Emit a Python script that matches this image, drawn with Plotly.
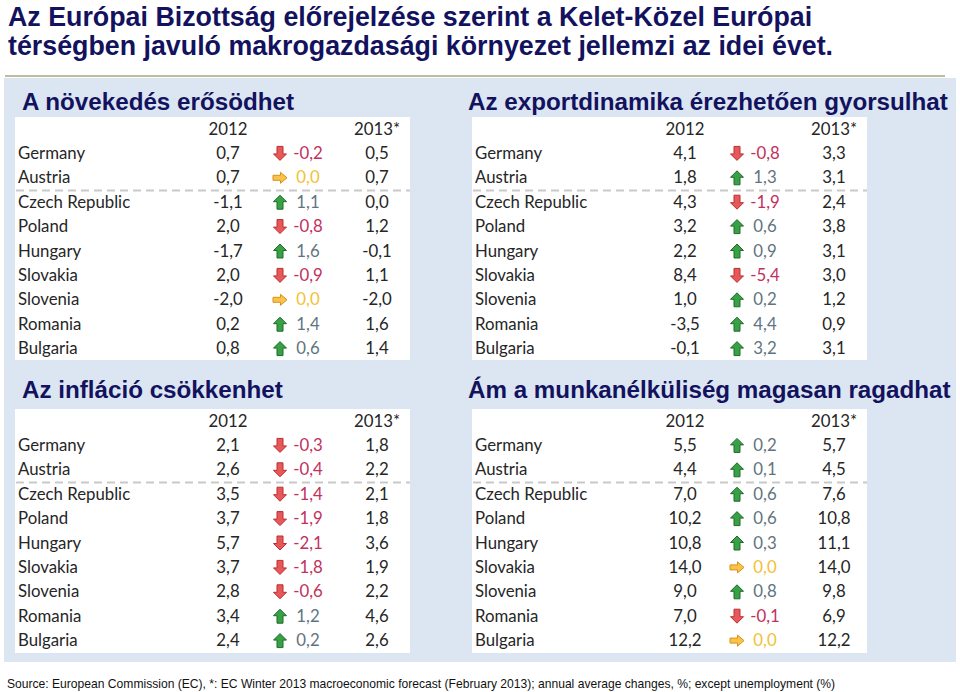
import plotly.graph_objects as go

# ---------------- data ----------------
countries = ["Germany", "Austria", "Czech Republic", "Poland", "Hungary",
             "Slovakia", "Slovenia", "Romania", "Bulgaria"]
col_headers = ["2012", "2013*"]

growth_2012 = [0.7, 0.7, -1.1, 2.0, -1.7, 2.0, -2.0, 0.2, 0.8]
growth_change = [-0.2, 0.0, 1.1, -0.8, 1.6, -0.9, 0.0, 1.4, 0.6]
growth_2013 = [0.5, 0.7, 0.0, 1.2, -0.1, 1.1, -2.0, 1.6, 1.4]

export_2012 = [4.1, 1.8, 4.3, 3.2, 2.2, 8.4, 1.0, -3.5, -0.1]
export_change = [-0.8, 1.3, -1.9, 0.6, 0.9, -5.4, 0.2, 4.4, 3.2]
export_2013 = [3.3, 3.1, 2.4, 3.8, 3.1, 3.0, 1.2, 0.9, 3.1]

inflation_2012 = [2.1, 2.6, 3.5, 3.7, 5.7, 3.7, 2.8, 3.4, 2.4]
inflation_change = [-0.3, -0.4, -1.4, -1.9, -2.1, -1.8, -0.6, 1.2, 0.2]
inflation_2013 = [1.8, 2.2, 2.1, 1.8, 3.6, 1.9, 2.2, 4.6, 2.6]

unemp_2012 = [5.5, 4.4, 7.0, 10.2, 10.8, 14.0, 9.0, 7.0, 12.2]
unemp_change = [0.2, 0.1, 0.6, 0.6, 0.3, 0.0, 0.8, -0.1, 0.0]
unemp_2013 = [5.7, 4.5, 7.6, 10.8, 11.1, 14.0, 9.8, 6.9, 12.2]

main_title = ["Az Európai Bizottság előrejelzése szerint a Kelet-Közel Európai",
              "térségben javuló makrogazdasági környezet jellemzi az idei évet."]
panel_titles = ["A növekedés erősödhet",
                "Az exportdinamika érezhetően gyorsulhat",
                "Az infláció csökkenhet",
                "Ám a munkanélküliség magasan ragadhat"]
footer = ("Source: European Commission (EC), *: EC Winter 2013 macroeconomic forecast "
          "(February 2013); annual average changes, %; except unemployment (%)")

# ---------------- layout helpers ----------------
W, H = 960, 692
NAVY = "#12125e"
TXT = "#262626"
BODY_FONT = "Lato"
BODY_SIZE = 16.8

tables = [
    dict(left=15, top=117, h=243, title=panel_titles[0], tx=20, ty=101,
         v12=growth_2012, ch=growth_change, v13=growth_2013),
    dict(left=472, top=117, h=243, title=panel_titles[1], tx=466, ty=101,
         v12=export_2012, ch=export_change, v13=export_2013),
    dict(left=15, top=409, h=244, title=panel_titles[2], tx=20, ty=389,
         v12=inflation_2012, ch=inflation_change, v13=inflation_2013),
    dict(left=472, top=409, h=244, title=panel_titles[3], tx=466, ty=389,
         v12=unemp_2012, ch=unemp_change, v13=unemp_2013),
]
TW = 395
ROW0, ROWH = 11.5, 24.4
TEXT_DY = 2
C_NAME, C_12, C_ARR, C_CH, C_13 = 3, 213, 265, 293, 362


def fmt(v):
    s = f"{v:.1f}".replace(".", ",")
    return "0,0" if s == "-0,0" else s


def arrow_path(cx, cy, d):
    if d > 0:
        pts = [(0, -7), (6.5, -0.5), (3, -0.5), (3, 7), (-3, 7), (-3, -0.5), (-6.5, -0.5)]
    elif d < 0:
        pts = [(0, 7), (6.5, 0.5), (3, 0.5), (3, -7), (-3, -7), (-3, 0.5), (-6.5, 0.5)]
    else:
        pts = [(7, 0), (0.5, -5.5), (0.5, -2.5), (-7, -2.5), (-7, 2.5), (0.5, 2.5), (0.5, 5.5)]
    return "M " + " L ".join(f"{cx + px:.2f},{cy + py:.2f}" for px, py in pts) + " Z"


fig = go.Figure()
shapes = []
annotations = []

# background panel + olive rule
shapes.append(dict(type="rect", x0=4, x1=956, y0=78, y1=662, xref="x", yref="y",
                   fillcolor="#dce6f2", line=dict(width=0), layer="below"))
shapes.append(dict(type="line", x0=5, x1=945, y0=76, y1=76, xref="x", yref="y",
                   line=dict(color="#a9a77d", width=1.5)))

for t in tables:
    L, T = t["left"], t["top"]
    shapes.append(dict(type="rect", x0=L, x1=L + TW, y0=T, y1=T + t["h"], xref="x", yref="y",
                       fillcolor="white", line=dict(width=0), layer="below"))
    ydash = T + ROW0 + ROWH * 2.5 + 1
    shapes.append(dict(type="line", x0=L + 1, x1=L + TW, y0=ydash, y1=ydash, xref="x", yref="y",
                       line=dict(color="#c9c9c9", width=2, dash="8px,5px")))
    annotations.append(dict(x=t["tx"], y=t["ty"], xref="x", yref="y", text=f"<b>{t['title']}</b>",
                            showarrow=False, xanchor="left", yanchor="middle",
                            font=dict(family="Liberation Sans, Arial", size=24.2, color=NAVY)))

    rows_y = [T + ROW0 + ROWH * (k + 1) for k in range(len(countries))]
    text_y = [y + TEXT_DY for y in rows_y]
    hy = T + ROW0 + TEXT_DY
    # headers
    fig.add_trace(go.Scatter(x=[L + C_12, L + C_13], y=[hy, hy], mode="text", text=col_headers,
                             textposition="middle center",
                             textfont=dict(family=BODY_FONT, size=BODY_SIZE, color=TXT),
                             hoverinfo="skip", showlegend=False))
    # names
    fig.add_trace(go.Scatter(x=[L + C_NAME] * len(countries), y=text_y, mode="text",
                             text=countries, textposition="middle right",
                             textfont=dict(family=BODY_FONT, size=BODY_SIZE, color=TXT),
                             hoverinfo="skip", showlegend=False))
    # 2012 / 2013 values
    fig.add_trace(go.Scatter(x=[L + C_12] * len(countries), y=text_y, mode="text",
                             text=[fmt(v) for v in t["v12"]], textposition="middle center",
                             textfont=dict(family=BODY_FONT, size=BODY_SIZE, color=TXT),
                             hoverinfo="skip", showlegend=False))
    fig.add_trace(go.Scatter(x=[L + C_13] * len(countries), y=text_y, mode="text",
                             text=[fmt(v) for v in t["v13"]], textposition="middle center",
                             textfont=dict(family=BODY_FONT, size=BODY_SIZE, color=TXT),
                             hoverinfo="skip", showlegend=False))
    # change values
    ch_colors = ["#c2305e" if c < 0 else ("#f2c237" if c == 0 else "#5f7481") for c in t["ch"]]
    fig.add_trace(go.Scatter(x=[L + C_CH] * len(countries), y=text_y, mode="text",
                             text=[fmt(v) for v in t["ch"]], textposition="middle center",
                             textfont=dict(family=BODY_FONT, size=BODY_SIZE, color=ch_colors),
                             hoverinfo="skip", showlegend=False))
    # arrows
    for c, yy in zip(t["ch"], rows_y):
        if c > 0:
            fill, edge = "#38a145", "#1f6b2a"
        elif c < 0:
            fill, edge = "#e8585a", "#b8302f"
        else:
            fill, edge = "#f9c447", "#d9901c"
        shapes.append(dict(type="path", path=arrow_path(L + C_ARR, yy + 0.5, c), xref="x", yref="y",
                           fillcolor=fill, line=dict(color=edge, width=1)))

# main title
for i, line in enumerate(main_title):
    annotations.append(dict(x=6, y=17 + 29 * i, xref="x", yref="y", text=f"<b>{line}</b>",
                            showarrow=False, xanchor="left", yanchor="middle",
                            font=dict(family="Liberation Sans, Arial", size=26.8, color=NAVY)))
annotations.append(dict(x=5, y=684, xref="x", yref="y", text=footer, showarrow=False,
                        xanchor="left", yanchor="middle",
                        font=dict(family="Liberation Sans, Arial", size=12.1, color="#111111")))

fig.update_layout(
    width=W, height=H, margin=dict(l=0, r=0, t=0, b=0),
    paper_bgcolor="white", plot_bgcolor="white",
    xaxis=dict(range=[0, W], visible=False, fixedrange=True),
    yaxis=dict(range=[H, 0], visible=False, fixedrange=True),
    shapes=shapes, annotations=annotations,
)
fig.write_html("out.html", config={"displayModeBar": False},
               post_script="document.body.style.margin='0px';document.body.style.overflow='hidden';")
